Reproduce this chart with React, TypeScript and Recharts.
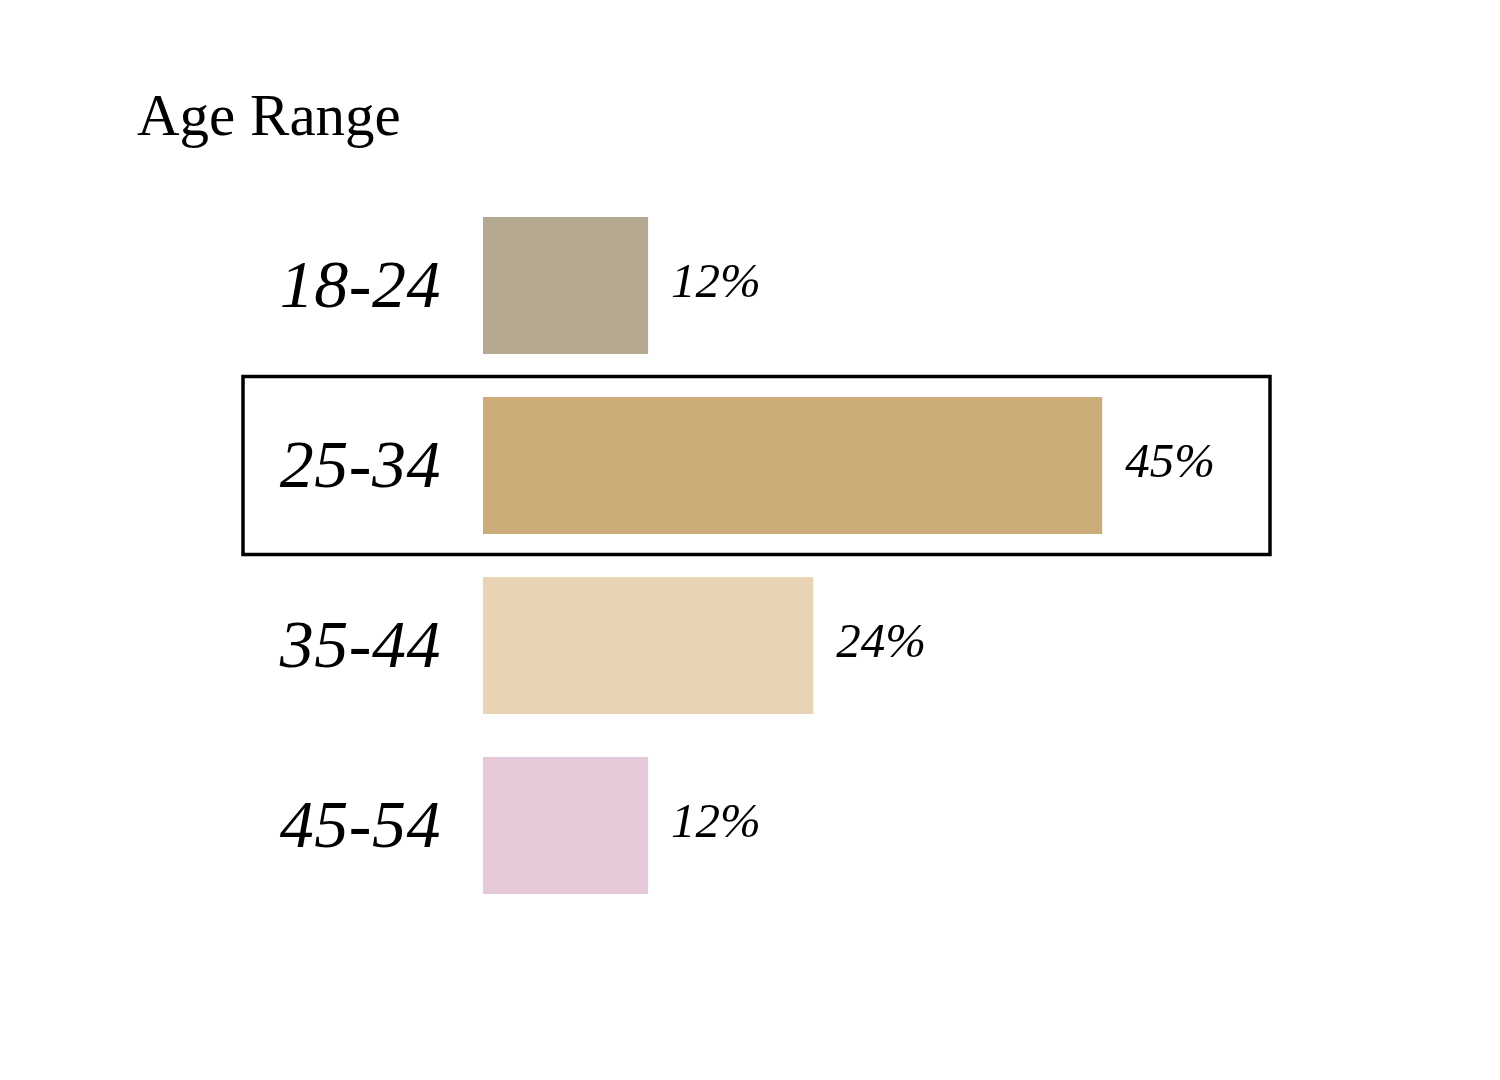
import React from 'react';
import { BarChart, Bar, XAxis, YAxis, Cell, LabelList, ReferenceArea } from 'recharts';

const ageRanges = ['18-24', '25-34', '35-44', '45-54'];
const shares = [12, 45, 24, 12];
const barColors = ['#b4a891', '#cbab78', '#e8d4b4', '#e6c9d8'];
const highlighted = '25-34';

const data = ageRanges.map((range, i) => ({ range, share: shares[i] }));

const serif = '"Liberation Serif", "Times New Roman", serif';

function AgeTick(props: any) {
  const { x, y, payload } = props;
  return (
    <text
      x={x - 34}
      y={y}
      dy="0.33em"
      textAnchor="end"
      fontFamily={serif}
      fontStyle="italic"
      fontSize={68}
      letterSpacing={0.5}
      fill="#000"
    >
      {payload.value}
    </text>
  );
}

function HighlightBox(props: any) {
  const { x, y, width, height } = props;
  return (
    <rect
      x={x - 240}
      y={y + 1.5}
      width={width + 339}
      height={height - 2}
      fill="none"
      stroke="#000"
      strokeWidth={3.5}
    />
  );
}

export default function App() {
  return (
    <div style={{ position: 'absolute', left: 0, top: 0, width: 1500, height: 1080, background: '#fff' }}>
      <svg width={1500} height={200} style={{ position: 'absolute', left: 0, top: 0 }}>
        <text x={137} y={135} fontFamily={serif} fontSize={59} fill="#000">
          Age Range
        </text>
      </svg>
      <div style={{ position: 'absolute', left: 0, top: 0 }}>
        <BarChart
          width={1500}
          height={1080}
          data={data}
          layout="vertical"
          margin={{ top: 195, right: 329, bottom: 165, left: 283 }}
          barSize={137}
        >
          <XAxis type="number" domain={[0, 50]} hide />
          <YAxis
            type="category"
            dataKey="range"
            width={200}
            axisLine={false}
            tickLine={false}
            tick={<AgeTick />}
          />
          <ReferenceArea
            y1={highlighted}
            y2={highlighted}
            ifOverflow="visible"
            shape={<HighlightBox />}
          />
          <Bar dataKey="share" isAnimationActive={false}>
            {data.map((d, i) => (
              <Cell key={d.range} fill={barColors[i]} />
            ))}
            <LabelList
              dataKey="share"
              position="right"
              offset={23}
              formatter={(v: any) => `${v}%`}
              fontFamily={serif}
              fontStyle="italic"
              fontSize={49}
              fill="#000"
              dy={-6}
            />
          </Bar>
        </BarChart>
      </div>
    </div>
  );
}
